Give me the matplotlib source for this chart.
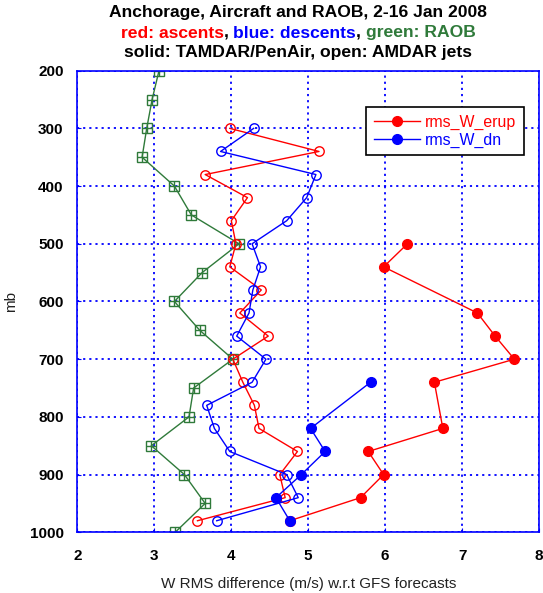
import matplotlib
matplotlib.use("Agg")
import matplotlib.pyplot as plt

plt.rcParams['font.family'] = ['Liberation Sans', 'DejaVu Sans']

# pressure levels (mb)
lev_air = [300, 340, 380, 420, 460, 500, 540, 580, 620, 660, 700, 740, 780, 820, 860, 900, 940, 980]
lev_raob = [200, 250, 300, 350, 400, 450, 500, 550, 600, 650, 700, 750, 800, 850, 900, 950, 1000]
lev_tam_up = [500, 540, 620, 660, 700, 740, 820, 860, 900, 940, 980]
lev_tam_dn = [740, 820, 860, 900, 940, 980]

# W rms differences (m/s)
amdar_up = [3.98, 5.14, 3.66, 4.21, 4.00, 4.06, 3.98, 4.39, 4.11, 4.48, 4.02, 4.15, 4.30, 4.36, 4.86, 4.63, 4.70, 3.56]
amdar_dn = [4.29, 3.86, 5.10, 4.98, 4.72, 4.27, 4.38, 4.28, 4.23, 4.07, 4.45, 4.27, 3.68, 3.78, 3.98, 4.72, 4.87, 3.81]
raob = [3.06, 2.97, 2.90, 2.84, 3.26, 3.48, 4.10, 3.62, 3.26, 3.59, 4.02, 3.51, 3.45, 2.96, 3.39, 3.66, 3.27]
tam_up = [6.29, 5.98, 7.20, 7.43, 7.68, 6.64, 6.75, 5.78, 5.98, 5.68, 4.76]
tam_dn = [5.81, 5.03, 5.22, 4.91, 4.58, 4.76]

red = '#ff0000'
blue = '#0000ff'
green = '#2f7a3a'

fig = plt.figure(figsize=(5.43, 5.93), dpi=100)
ax = fig.add_axes([0.1427, 0.1024, 0.8499, 0.7784])

# RAOB: square with a cross inside
ax.plot(raob, lev_raob, '-', color=green, lw=1, marker='s', ms=6.5, mfc='none', mec=green, mew=1)
ax.plot(raob, lev_raob, 'none', marker='+', ms=6.5, mec=green, mew=1)

# AMDAR jets (open)
ax.plot(amdar_up, lev_air, '-', color=red, lw=1, marker='o', ms=6.8, mfc='none', mec=red, mew=1)
ax.plot(amdar_dn, lev_air, '-', color=blue, lw=1, marker='o', ms=6.8, mfc='none', mec=blue, mew=1)

# TAMDAR/PenAir (solid)
ax.plot(tam_up, lev_tam_up, '-', color=red, lw=1, marker='o', ms=7, label='rms_W_erup')
ax.plot(tam_dn, lev_tam_dn, '-', color=blue, lw=1, marker='o', ms=7, label='rms_W_dn')

ax.set_xlim(2, 8)
ax.set_ylim(1000, 200)
ax.set_xticks(range(2, 9))
ax.set_yticks(range(200, 1001, 100))
ax.grid(True, color=blue, linestyle=(0, (1.2, 2.2)), linewidth=1.3)
ax.tick_params(direction='in', length=3, color=blue, labelsize=11)
ax.tick_params(axis='x', pad=12)
ax.tick_params(axis='y', pad=10)
for lab in ax.get_xticklabels() + ax.get_yticklabels():
    lab.set_fontweight('bold')
for s in ax.spines.values():
    s.set_color(blue)
    s.set_linewidth(1.2)

ax.set_xlabel('W RMS difference (m/s) w.r.t GFS forecasts', fontsize=11, labelpad=10, color='#222222')
ax.set_ylabel('mb', fontsize=11, labelpad=8, color='#222222')

leg = ax.legend(loc='upper right', bbox_to_anchor=(0.9675, 0.9214), borderaxespad=0,
                fontsize=11.4, fancybox=False, framealpha=1, edgecolor='black',
                borderpad=0.5, handlelength=2.9, handletextpad=0.3, labelspacing=0.15)
leg.get_frame().set_linewidth(1.2)
for txt, c in zip(leg.get_texts(), [red, blue]):
    txt.set_color(c)

# title, three lines, the middle one in several colours
cx = 298 / 543
fs = 12.6
fig.text(cx, 1 - 13 / 593, 'Anchorage, Aircraft and RAOB, 2-16 Jan 2008',
         ha='center', va='center', fontsize=fs, fontweight='bold')
fig.text(cx, 1 - 52 / 593, 'solid: TAMDAR/PenAir, open: AMDAR jets',
         ha='center', va='center', fontsize=fs, fontweight='bold')

pieces = [('red: ascents', red), (', ', 'black'), ('blue: descents', blue),
          (', ', 'black'), ('green: RAOB', green)]
renderer = fig.canvas.get_renderer()
y2 = 1 - 33 / 593
texts = []
x = 0
for s, c in pieces:
    t = fig.text(x, y2, s, ha='left', va='center', fontsize=fs, fontweight='bold', color=c)
    w = t.get_window_extent(renderer).width / fig.bbox.width
    texts.append((t, w))
    x += w
start = cx - x / 2
for t, w in texts:
    t.set_x(start)
    start += w

fig.savefig('out.png', dpi=100)
